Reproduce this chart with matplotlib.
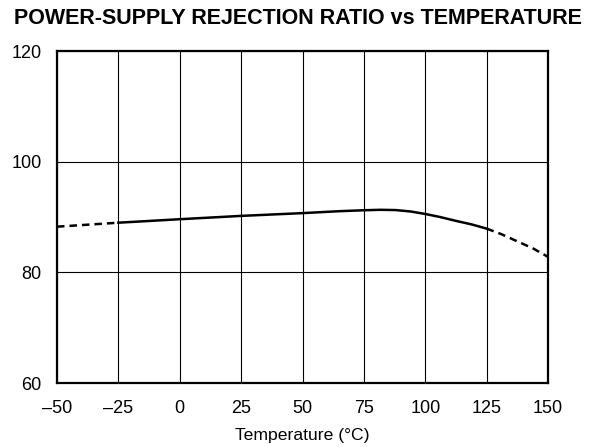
import matplotlib.pyplot as plt

plt.rcParams['font.family'] = ['Liberation Sans', 'DejaVu Sans']

# PSRR (dB)
temp_solid = [-25, 0, 25, 50, 65, 75, 82, 88, 94, 100, 106, 112.5, 119, 125]
psrr_solid = [88.97, 89.6, 90.2, 90.7, 91.05, 91.22, 91.3, 91.25, 91.0, 90.55,
              90.0, 89.3, 88.65, 87.9]
temp_lo = [-50, -25]
psrr_lo = [88.25, 88.97]
temp_hi = [125, 131, 137.5, 144, 150]
psrr_hi = [87.9, 86.9, 85.6, 84.3, 82.8]

x_ticks = [-50, -25, 0, 25, 50, 75, 100, 125, 150]
x_labels = ['\u201350', '\u201325', '0', '25', '50', '75', '100', '125', '150']
y_ticks = [60, 80, 100, 120]

fig = plt.figure(figsize=(5.98, 4.47), dpi=100)
ax = fig.add_axes([57 / 598, 1 - 383 / 447, 491 / 598, 332 / 447])

ax.plot(temp_solid, psrr_solid, color='black', linewidth=1.8, linestyle='-')
ax.plot(temp_lo, psrr_lo, color='black', linewidth=1.8, linestyle=(0, (3, 2)))
ax.plot(temp_hi, psrr_hi, color='black', linewidth=1.8, linestyle=(0, (3, 2)))

ax.set_xlim(-50, 150)
ax.set_ylim(60, 120)
ax.set_xticks(x_ticks)
ax.set_xticklabels(x_labels)
ax.set_yticks(y_ticks)
ax.tick_params(length=0, labelsize=13)
ax.tick_params(axis='x', pad=12)
ax.tick_params(axis='y', pad=11)
ax.grid(color='black', linewidth=0.8)
for s in ax.spines.values():
    s.set_linewidth(1.6)

ax.set_xlabel('Temperature (\u00b0C)', fontsize=12.6, labelpad=8)
fig.text(14 / 598, 1 - 18 / 447, 'POWER-SUPPLY REJECTION RATIO vs TEMPERATURE',
         fontsize=15.5, fontweight='bold', ha='left', va='center')

fig.savefig('out.png', dpi=100)
